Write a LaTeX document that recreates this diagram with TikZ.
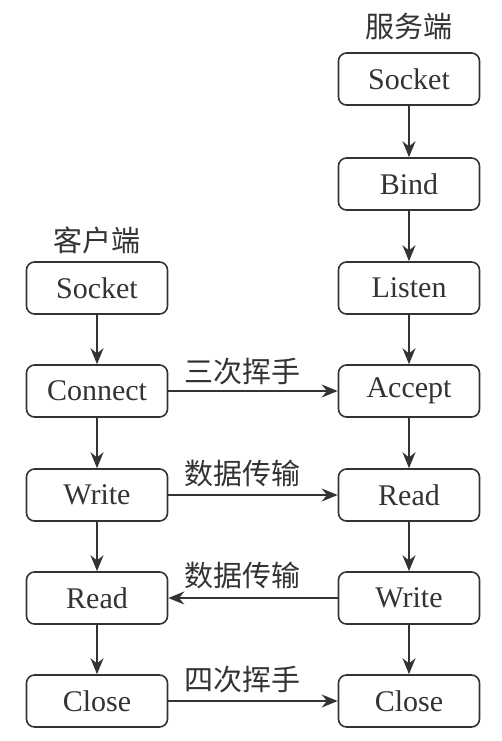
\documentclass[tikz,border=0pt]{standalone}
\usepackage{fontspec}
\setmainfont{Liberation Serif}
\newfontfamily\cjk{Noto Sans CJK SC}
\usetikzlibrary{arrows.meta}
\definecolor{ink}{HTML}{333333}
\tikzset{
  box/.style={draw=ink, line width=1.6pt, rounded corners=8pt, minimum width=141pt, minimum height=52pt, inner sep=0pt, text=ink, font=\fontsize{30}{32}\selectfont},
  lbl/.style={text=ink, inner sep=0pt, font=\cjk\fontsize{29}{31}\selectfont},
  arr/.style={draw=ink, line width=1.6pt, -{Stealth[length=16pt,width=13pt]}}
}
\begin{document}
\begin{tikzpicture}[x=1pt,y=-1pt]
\useasboundingbox (0,0) rectangle (502,741);
% server column
\node[lbl] (srv) at (409,26) {服务端};
\node[box] (s1) at (409,79) {Socket};
\node[box] (s2) at (409,184) {Bind};
\node[box] (s3) at (409,288) {Listen};
\node[box] (s4) at (409,391) {Accept};
\node[box] (s5) at (409,495) {Read};
\node[box] (s6) at (409,598) {Write};
\node[box] (s7) at (409,701) {Close};
% client column
\node[lbl] (cli) at (97,240) {客户端};
\node[box] (c1) at (97,288) {Socket};
\node[box] (c2) at (97,391) {Connect};
\node[box] (c3) at (97,495) {Write};
\node[box] (c4) at (97,598) {Read};
\node[box] (c5) at (97,701) {Close};
% vertical arrows
\foreach \a/\b in {s1/s2,s2/s3,s3/s4,s4/s5,s5/s6,s6/s7,c1/c2,c2/c3,c3/c4,c4/c5}
  \draw[arr] (\a) -- (\b);
% horizontal arrows
\draw[arr] (c2) -- (s4);
\draw[arr] (c3) -- (s5);
\draw[arr] (s6) -- (c4);
\draw[arr] (c5) -- (s7);
% labels
\node[lbl] (l1) at (242,372) {三次挥手};
\node[lbl] (l2) at (242,473) {数据传输};
\node[lbl] (l3) at (242,575) {数据传输};
\node[lbl] (l4) at (242,680) {四次挥手};
\end{tikzpicture}
\end{document}
